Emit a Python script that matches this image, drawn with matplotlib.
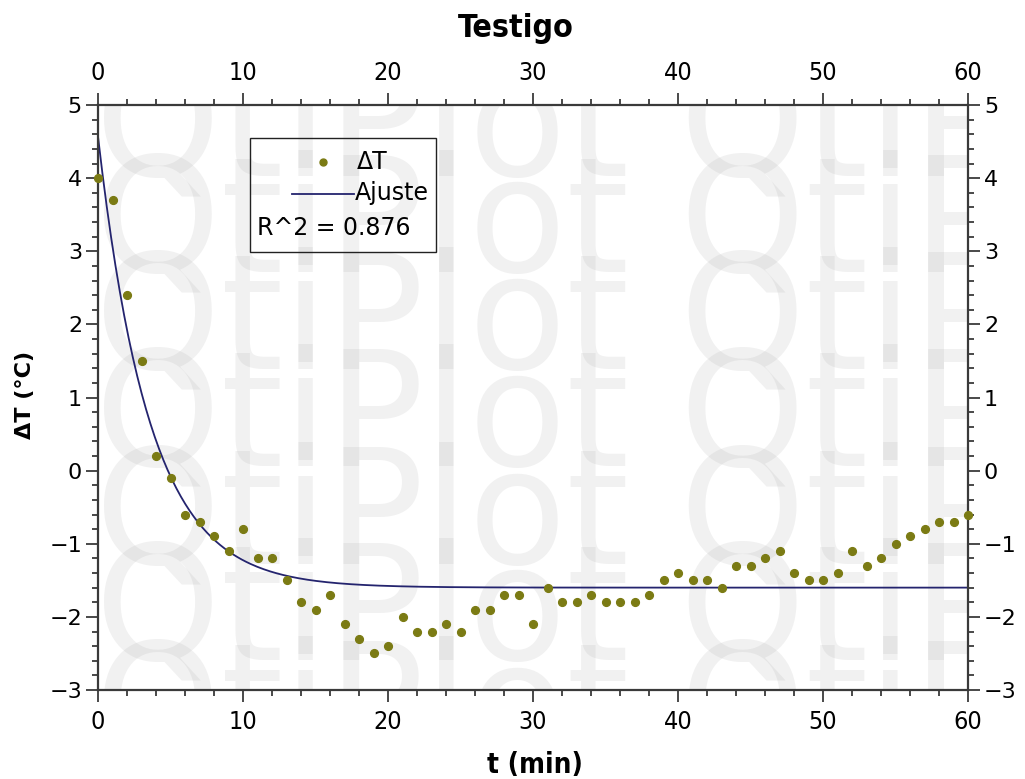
import numpy as np
import matplotlib
matplotlib.use("Agg")
import matplotlib.pyplot as plt
from matplotlib.ticker import MultipleLocator
from matplotlib.patches import Rectangle
from matplotlib.lines import Line2D

# ---- data ----
t_min = list(range(0, 61))
delta_T = [4.0, 3.7, 2.4, 1.5, 0.2, -0.1, -0.6, -0.7, -0.9, -1.1,
           -0.8, -1.2, -1.2, -1.5, -1.8, -1.9, -1.7, -2.1, -2.3, -2.5,
           -2.4, -2.0, -2.2, -2.2, -2.1, -2.2, -1.9, -1.9, -1.7, -1.7,
           -2.1, -1.6, -1.8, -1.8, -1.7, -1.8, -1.8, -1.8, -1.7, -1.5,
           -1.4, -1.5, -1.5, -1.6, -1.3, -1.3, -1.2, -1.1, -1.4, -1.5,
           -1.5, -1.4, -1.1, -1.3, -1.2, -1.0, -0.9, -0.8, -0.7, -0.7,
           -0.6]
# fitted exponential decay parameters (Ajuste)
fit_y0 = -1.6
fit_A = 6.17
fit_k = 0.28
r2_text = "R^2 = 0.876"

title = "Testigo"
xlabel = "t (min)"
ylabel = "ΔT (°C)"

# ---- figure ----
W, H = 1025, 779
fig = plt.figure(figsize=(W / 100, H / 100), dpi=100)
L, R, T, B = 98, 968, 105, 690
ax = fig.add_axes([L / W, 1 - B / H, (R - L) / W, (B - T) / H])

axis_col = "#3a3a3a"
ax.set_xlim(0, 60)
ax.set_ylim(-3, 5)


def ax_x(px):
    return (px - L) / (R - L)


def ax_y(py):
    return (B - py) / (B - T)


# watermark (QtiPlot trial)
for base in [78, 175, 272, 369, 465, 564, 660, 757]:
    ax.text(ax_x(95), ax_y(base), "QtiPlot QtiPlot", transform=ax.transAxes,
            fontsize=115, family="DejaVu Sans", color="#a8a8a8", alpha=0.16,
            va="baseline", ha="left", clip_on=True, zorder=0)

# fit curve
tt = np.linspace(0, 60, 400)
fit_vals = fit_y0 + fit_A * np.exp(-fit_k * tt)
ax.plot(tt, fit_vals, color="#24246e", lw=1.3, zorder=2)

# data points
ax.plot(t_min, delta_T, ls="none", marker="o", ms=5.6, color="#7b7b14",
        mec="#7b7b14", zorder=3, clip_on=False)

# ticks
ax.xaxis.set_major_locator(MultipleLocator(10))
ax.xaxis.set_minor_locator(MultipleLocator(2))
ax.yaxis.set_major_locator(MultipleLocator(1))
ax.yaxis.set_minor_locator(MultipleLocator(0.2))
ax.tick_params(which="both", direction="out", top=True, right=True,
               labeltop=True, labelright=True, color=axis_col, width=1.3)
ax.tick_params(which="major", length=8.5)
ax.tick_params(which="minor", length=4.5)
ax.tick_params(axis="x", which="major", labelsize=18, pad=6)
ax.tick_params(axis="y", which="major", labelsize=16, pad=3)
for lab in ax.get_xticklabels(which="both"):
    lab.set_fontstretch("condensed")
for sp in ax.spines.values():
    sp.set_color(axis_col)
    sp.set_linewidth(1.6)

# legend box drawn manually
box = Rectangle((ax_x(250), ax_y(252)), ax_x(436) - ax_x(250), ax_y(138) - ax_y(252),
                transform=ax.transAxes, facecolor="none", edgecolor="#222222",
                lw=1.0, zorder=5)
ax.add_patch(box)
ax.add_line(Line2D([ax_x(323)], [ax_y(162)], transform=ax.transAxes, ls="none",
                   marker="o", ms=5.0, color="#7b7b14", zorder=6))
ax.text(ax_x(357), ax_y(162), "ΔT", transform=ax.transAxes, fontsize=17,
        va="center", ha="left", zorder=6)
ax.add_line(Line2D([ax_x(292), ax_x(354)], [ax_y(194), ax_y(194)], transform=ax.transAxes,
                   color="#24246e", lw=1.3, zorder=6))
ax.text(ax_x(355), ax_y(193), "Ajuste", transform=ax.transAxes, fontsize=17,
        va="center", ha="left", zorder=6)
ax.text(ax_x(257), ax_y(228), r2_text, transform=ax.transAxes, fontsize=17,
        va="center", ha="left", zorder=6)

fig.text(516 / W, 1 - 29 / H, title, fontsize=23, fontweight="bold",
         ha="center", va="center", fontstretch="condensed")
fig.text(535 / W, 1 - 765 / H, xlabel, fontsize=20, fontweight="bold",
         ha="center", va="center", fontstretch="condensed")
fig.text(25 / W, 1 - 395 / H, ylabel, fontsize=16, fontweight="bold",
         ha="center", va="center", rotation=90)

fig.savefig("out.png", dpi=100, facecolor="white")
